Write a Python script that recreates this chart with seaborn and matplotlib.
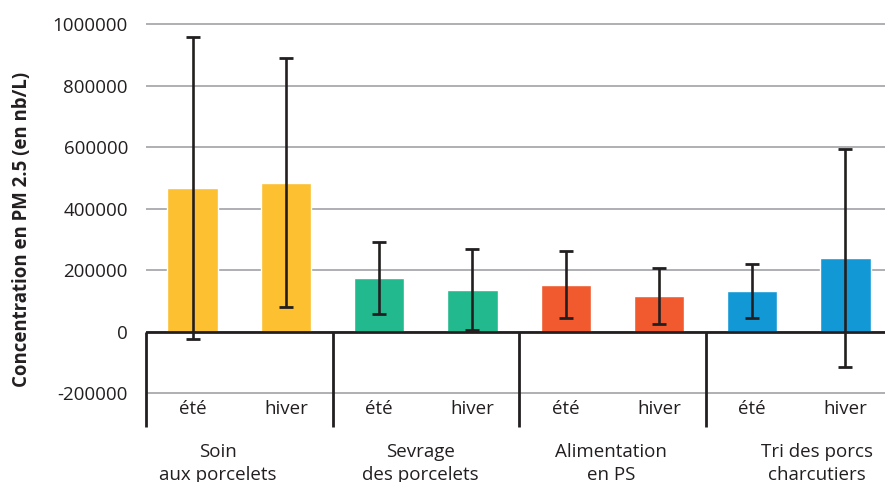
import pandas as pd
import matplotlib.pyplot as plt
import seaborn as sns

# Data
groups = ['Soin\naux porcelets', 'Sevrage\ndes porcelets', 'Alimentation\nen PS', 'Tri des porcs\ncharcutiers']
seasons = ['été', 'hiver']
means = [467000, 484000, 175000, 137000, 153000, 116000, 131000, 240000]
errors = [491000, 405000, 118000, 132000, 108000, 90000, 88000, 355000]
colors = ['#FDC030', '#21B98D', '#F15A2F', '#1398D6']
yticks = [-200000, 0, 200000, 400000, 600000, 800000, 1000000]

df = pd.DataFrame({
    'bar': [f'{g}|{s}' for g in groups for s in seasons],
    'groupe': [g for g in groups for s in seasons],
    'saison': [s for g in groups for s in seasons],
    'valeur': means,
})

sns.set_style('white')
plt.rcParams['font.family'] = ['Open Sans', 'DejaVu Sans']

fig = plt.figure(figsize=(8.85, 4.82), dpi=100)
ax = fig.add_axes([0.165, 0.1141, 0.843, 0.8674])

sns.barplot(data=df, x='bar', y='valeur', hue='groupe', palette=colors,
            dodge=False, width=0.54, legend=False, errorbar=None, ax=ax,
            saturation=1, zorder=2)
ax.errorbar(range(len(means)), means, yerr=errors, fmt='none',
            ecolor='#231F20', elinewidth=1.9, capsize=4.7, capthick=2, zorder=4)

ax.set_xlim(-0.5, 7.5)
ax.set_ylim(-310000, 1050000)
ax.set_yticks(yticks)
ax.set_yticklabels([str(t) for t in yticks], fontsize=13.5, color='#231F20')
ax.tick_params(axis='y', length=0, pad=13)
ax.set_xticks([])
ax.set_xlabel('')
ax.set_ylabel('Concentration en PM 2.5 (en nb/L)', fontsize=13.4,
              fontweight='bold', color='#231F20', va='center')
ax.yaxis.set_label_coords(-0.166, 0.4736)

for s in ax.spines.values():
    s.set_visible(False)
ax.set_axisbelow(True)
ax.yaxis.grid(True, color='#A7A9AC', linewidth=1.3, zorder=0)

# zero line and group separators
ax.axhline(0, color='#231F20', linewidth=2, zorder=3)
ax.vlines([-0.5, 1.5, 3.5, 5.5], -310000, 0, color='#231F20', linewidth=2,
          zorder=3, clip_on=False)

# season labels inside the lower band
for i, lab in enumerate(df['saison']):
    ax.text(i, -250000, lab, ha='center', va='center', fontsize=13.5,
            color='#231F20')

# group labels below the axes
group_x = [0.27, 2.44, 4.49, 6.69]
for gx, g in zip(group_x, groups):
    ax.text(gx, -362000, g, ha='center', va='top', fontsize=13.5,
            color='#231F20', linespacing=1.35, clip_on=False)

fig.savefig('out.png', dpi=100)
plt.close(fig)
